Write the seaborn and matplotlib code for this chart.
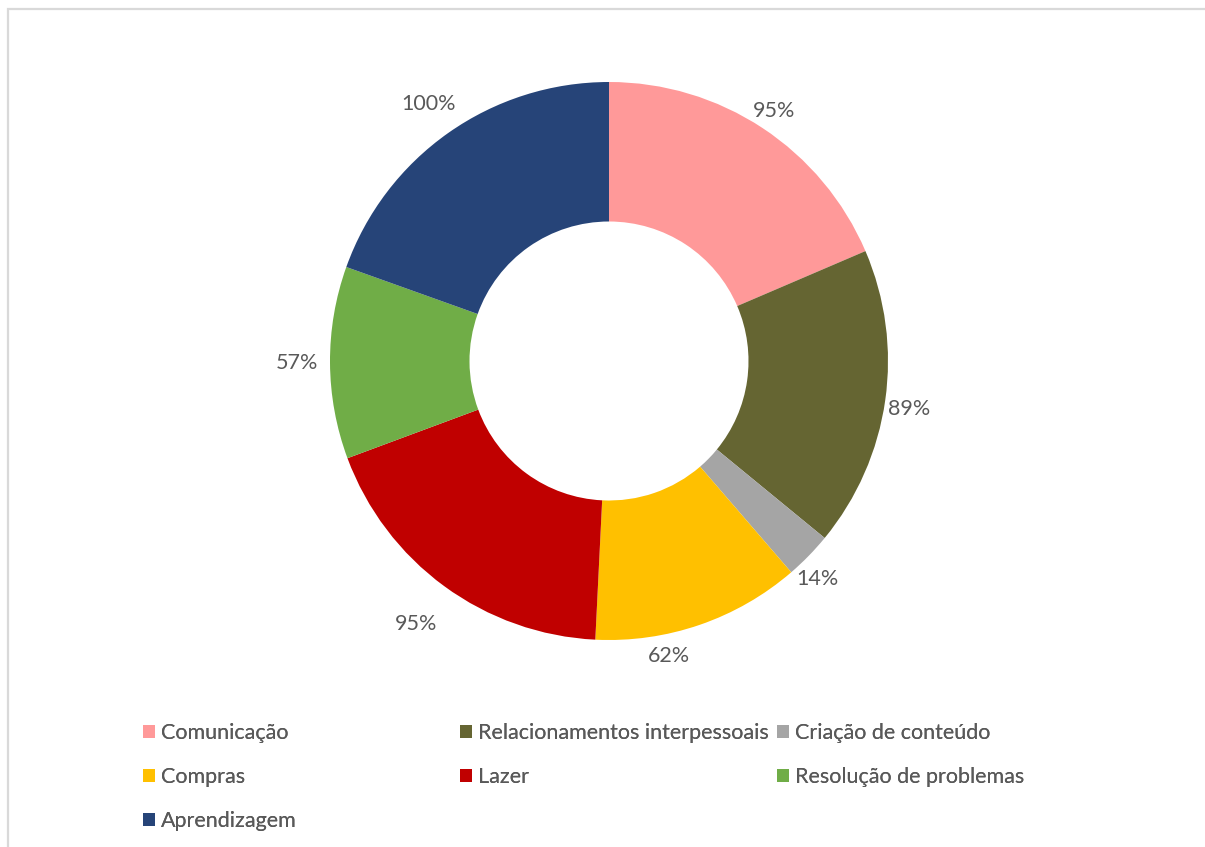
import matplotlib
matplotlib.use("Agg")
import numpy as np
import matplotlib.pyplot as plt
import seaborn as sns
from matplotlib.patches import Rectangle

# Categories and their values (%)
categories = ["Comunicação", "Relacionamentos interpessoais", "Criação de conteúdo",
              "Compras", "Lazer", "Resolução de problemas", "Aprendizagem"]
values = [95, 89, 14, 62, 95, 57, 100]
colors = ["#FF9999", "#656532", "#A5A5A5", "#FFC000", "#C00000", "#70AD47", "#264478"]

# Label placement: radial distance (in ring radii) and angular nudge (degrees, clockwise)
label_dist = [1.075, 1.09, 1.08, 1.08, 1.17, 1.12, 1.125]
label_nudge = [0, 1, 2, 7.5, 0, 0, 0]

sns.set_theme(style="white")
plt.rcParams["font.family"] = ["Lato", "DejaVu Sans"]

W, H = 1205, 847
fig = plt.figure(figsize=(W / 100, H / 100), dpi=100)
fig.patch.set_facecolor("white")

# Donut axes: centre (609, 361) px, outer radius 279 px
cx, cy, r = 609, 361, 279
lim = 1.2
half = r * lim
ax = fig.add_axes([(cx - half) / W, (H - cy - half) / H, 2 * half / W, 2 * half / H])

labels = [f"{v}%" for v in values]
wedges, texts = ax.pie(values, colors=colors, startangle=90, counterclock=False,
                       labels=labels, labeldistance=1.09,
                       wedgeprops=dict(width=0.5, linewidth=0),
                       textprops=dict(fontsize=15.5, color="#595959"))
for w, t, d, n in zip(wedges, texts, label_dist, label_nudge):
    ang = np.deg2rad((w.theta1 + w.theta2) / 2 - n)
    t.set_position((d * np.cos(ang), d * np.sin(ang)))
    t.set_ha("center")
    t.set_va("center")
ax.set_xlim(-lim, lim)
ax.set_ylim(-lim, lim)
ax.set_aspect("equal")
ax.axis("off")

# Legend laid out in three equal-width columns
col_x = [143, 460, 777]
columns = [[0, 3, 6], [1, 4], [2, 5]]
top_y = 723
for x, idx in zip(col_x, columns):
    leg = fig.legend([wedges[i] for i in idx], [categories[i] for i in idx],
                     loc="upper left", bbox_to_anchor=(x / W, 1 - top_y / H),
                     frameon=False, fontsize=15.5, handlelength=0.56, handleheight=0.56,
                     handletextpad=0.28, labelspacing=1.12, borderpad=0, borderaxespad=0,
                     labelcolor="#595959")
    fig.add_artist(leg)

# Thin frame line along top and left
fig.add_artist(Rectangle((8 / W, -0.1), 1.2, 1 - 9.5 / H + 0.1, transform=fig.transFigure,
                         fill=False, edgecolor="#D9D9D9", linewidth=1.6))

fig.savefig("out.png", dpi=100, facecolor="white")
